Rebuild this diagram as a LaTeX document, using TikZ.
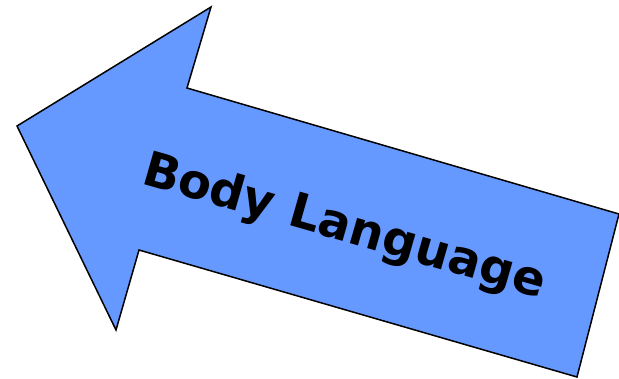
\documentclass[tikz,border=0pt]{standalone}
\usepackage{fontspec}
\setsansfont{DejaVu Sans}
\usetikzlibrary{positioning}

\definecolor{arrowblue}{HTML}{6699FF}

\tikzset{
  bigarrow/.style={draw=black, line width=1.5pt, fill=arrowblue, line join=miter},
  arrowlabel/.style={font=\sffamily\bfseries\fontsize{48}{48}\selectfont, rotate=-16, inner sep=0pt}
}

\begin{document}
\begin{tikzpicture}[x=1pt, y=-1pt]
  \useasboundingbox (0,0) rectangle (619,378);
  % the arrow outline
  \draw[bigarrow] (17,126) -- (211,7) -- (187,88) -- (619,214) -- (577,377)
    -- (139,250) -- (116,330) -- cycle;
  \node[arrowlabel] (label) at (344,228) {Body Language};
\end{tikzpicture}
\end{document}
